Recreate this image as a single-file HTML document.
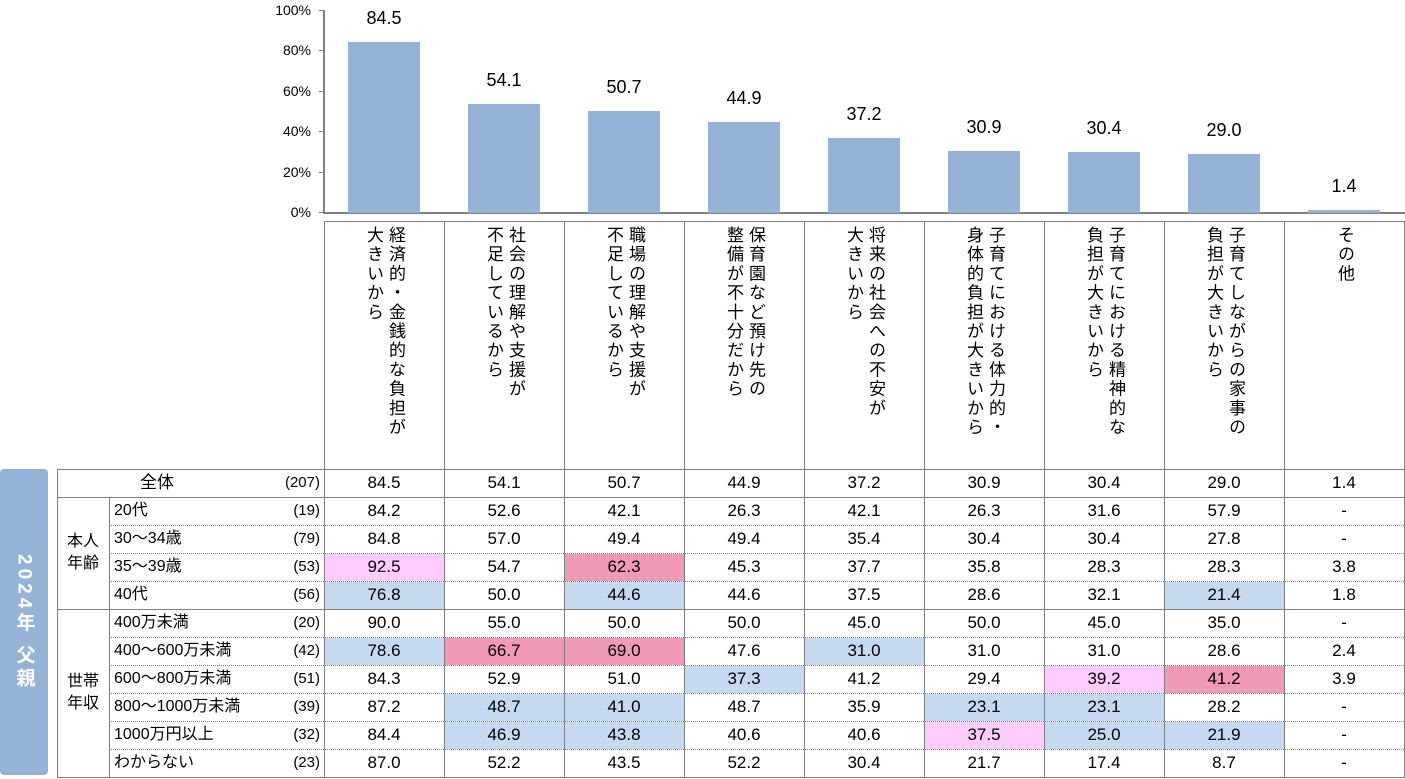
<!DOCTYPE html>
<html><head><meta charset="utf-8"><style>
body{margin:0;width:1405px;height:779px;background:#fff;position:relative;overflow:hidden;font-family:"Liberation Sans","Noto Sans CJK JP",sans-serif;color:#000}
.a{position:absolute;box-sizing:border-box}
.vt{writing-mode:vertical-rl;font-size:17px;line-height:22px;letter-spacing:2.2px}
.c{font-size:17px;text-align:center;line-height:28px}
</style></head><body>
<div class="a" style="left:0;top:469px;width:48px;height:306px;background:#95b3d7;border-radius:4px;color:#fff;font-weight:bold;font-size:19px;writing-mode:vertical-rl;display:flex;align-items:center;justify-content:center;letter-spacing:4px">2024年 父親</div>
<div id="root"></div>
<script>
const categories=["経済的・金銭的な負担が|大きいから","社会の理解や支援が|不足しているから","職場の理解や支援が|不足しているから","保育園など預け先の|整備が不十分だから","将来の社会への不安が|大きいから","子育てにおける体力的・|身体的負担が大きいから","子育てにおける精神的な|負担が大きいから","子育てしながらの家事の|負担が大きいから","その他"];
const totals=[84.5,54.1,50.7,44.9,37.2,30.9,30.4,29.0,1.4];
const ticks=[0,20,40,60,80,100];
const rowLabels=["全体","20代","30～34歳","35～39歳","40代","400万未満","400～600万未満","600～800万未満","800～1000万未満","1000万円以上","わからない"];
const rowN=["(207)","(19)","(79)","(53)","(56)","(20)","(42)","(51)","(39)","(32)","(23)"];
const tableVals=[
["84.5","54.1","50.7","44.9","37.2","30.9","30.4","29.0","1.4"],
["84.2","52.6","42.1","26.3","42.1","26.3","31.6","57.9","-"],
["84.8","57.0","49.4","49.4","35.4","30.4","30.4","27.8","-"],
["92.5","54.7","62.3","45.3","37.7","35.8","28.3","28.3","3.8"],
["76.8","50.0","44.6","44.6","37.5","28.6","32.1","21.4","1.8"],
["90.0","55.0","50.0","50.0","45.0","50.0","45.0","35.0","-"],
["78.6","66.7","69.0","47.6","31.0","31.0","31.0","28.6","2.4"],
["84.3","52.9","51.0","37.3","41.2","29.4","39.2","41.2","3.9"],
["87.2","48.7","41.0","48.7","35.9","23.1","23.1","28.2","-"],
["84.4","46.9","43.8","40.6","40.6","37.5","25.0","21.9","-"],
["87.0","52.2","43.5","52.2","30.4","21.7","17.4","8.7","-"]];
const highlights=[
".........",".........",".........","l.p......","b.b....b.","........."
,"bpp.b....","...b..lp.",".bb..bb..",".bb..lbb.","........."];
const root=document.getElementById('root');
function mk(css,txt,name,cls){const d=document.createElement('div');d.className='a '+(cls||'');d.style.cssText=css;if(txt!=null)d.textContent=txt;


root.appendChild(d);return d;}
const X0=324,CW=120,Y0=213,PX=2.02;
const y=v=>Y0-v*PX;
mk(`left:${X0-1}px;top:10px;width:2px;height:${Y0-9}px;background:#808080`,null,'y-axis');
mk(`left:${X0-1}px;top:${Y0-1}px;width:${CW*9+2}px;height:2px;background:#808080`,null,'x-axis');
ticks.forEach(t=>{mk(`left:${X0-5}px;top:${y(t)-1}px;width:5px;height:1px;background:#808080`,null,'y-tick');
mk(`left:250px;top:${y(t)-10}px;width:61px;text-align:right;font-size:14px;line-height:18px`,t+'%','y-tick-label');});
totals.forEach((v,i)=>{const cx=X0+CW*i+CW/2;
mk(`left:${cx-36}px;top:${y(v)}px;width:72px;height:${v*PX}px;background:#95b3d7`,null,'bar-'+i);
mk(`left:${cx-40}px;top:${y(v)-35}px;width:80px;text-align:center;font-size:18px;line-height:22px`,v.toFixed(1),'bar-value-'+i);});
const G='#808080';
categories.forEach((c,i)=>{const x=X0+CW*i;
mk(`left:${x}px;top:221px;width:${CW+1}px;height:249px;border:1px solid ${G}`,null,'category-header-'+i);
const d=mk(`left:${x}px;top:226px;width:${CW}px;display:flex;justify-content:center`,null,'category-label-'+i);
const inner=document.createElement('div');inner.className='vt';inner.innerHTML=c.split('|').join('<br>');d.appendChild(inner);});
const T=469,RH=28;
mk(`left:57px;top:${T}px;width:${X0-57+CW*9+1}px;height:${RH*11+1}px;border:1px solid ${G}`,null,'table-frame');
mk(`left:57px;top:${T}px;width:200px`,rowLabels[0],'row-label-total','c');
mk(`left:240px;top:${T}px;width:80px;text-align:right;font-size:15px;line-height:28px`,rowN[0],'row-n-total');
const gA=mk(`left:57px;top:${T+RH}px;width:52px;height:${RH*4}px;display:flex;align-items:center;justify-content:center;font-size:16px;line-height:22px;text-align:center`,null,'group-age-label');gA.innerHTML='本人<br>年齢';
const gI=mk(`left:57px;top:${T+RH*5}px;width:52px;height:${RH*6}px;display:flex;align-items:center;justify-content:center;font-size:16px;line-height:22px;text-align:center`,null,'group-income-label');gI.innerHTML='世帯<br>年収';
mk(`left:109px;top:${T+RH}px;width:1px;height:${RH*10}px;background:${G}`,null,'group-divider');
for(let c=0;c<=9;c++)mk(`left:${X0+CW*c}px;top:${T}px;width:1px;height:${RH*11}px;background:${G}`,null,'col-line');
for(let r=0;r<11;r++){const ty=T+RH*r;
 if(r>0){ highlights[r].split('').forEach((h,c)=>{if(h!=='.'){mk(`left:${X0+CW*c+1}px;top:${ty+1}px;width:${CW-1}px;height:${RH-1}px;background:${h==='p'?'#f09ab8':h==='l'?'#ffccff':'#c5d9f1'}`,null,'highlight-cell');}});
  mk(`left:114px;top:${ty}px;width:190px;font-size:16px;line-height:28px`,rowLabels[r],'row-label-'+r);
  mk(`left:240px;top:${ty}px;width:80px;text-align:right;font-size:15px;line-height:28px`,rowN[r],'row-n-'+r);}
 tableVals[r].forEach((v,c)=>mk(`left:${X0+CW*c}px;top:${ty}px;width:${CW}px`,v,'cell-'+r+'-'+c,'c'));
 if(r>0){const solid=(r===1||r===5);
  mk(`left:${solid?57:109}px;top:${ty}px;width:${X0+CW*9-(solid?57:109)}px;height:0;border-top:1px ${solid?'solid':'dotted'} ${G}`,null,'row-line');}
}
</script>
</body></html>
